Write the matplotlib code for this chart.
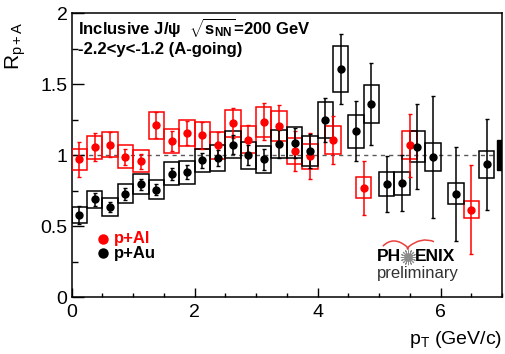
import matplotlib
matplotlib.use("Agg")
import matplotlib.pyplot as plt
import numpy as np
from matplotlib.patches import Rectangle, PathPatch
from matplotlib.path import Path
from matplotlib.ticker import MultipleLocator

plt.rcParams['font.family'] = ['Liberation Sans', 'DejaVu Sans']
plt.rcParams['mathtext.fontset'] = 'custom'
plt.rcParams['mathtext.rm'] = 'Liberation Sans'
plt.rcParams['mathtext.it'] = 'Liberation Sans'
plt.rcParams['mathtext.bf'] = 'Liberation Sans:bold'

# p+Al
pt_al = [0.125, 0.375, 0.625, 0.875, 1.125, 1.375, 1.625, 1.875, 2.125, 2.375,
         2.625, 2.875, 3.125, 3.375, 3.625, 3.875, 4.25, 4.75, 5.5, 6.5]
r_al = [0.97, 1.056, 1.075, 0.99, 0.958, 1.21, 1.10, 1.155, 1.14, 1.07,
        1.225, 1.11, 1.235, 1.205, 1.03, 0.993, 1.108, 0.772, 1.07, 0.618]
stat_al = [0.123, 0.10, 0.085, 0.056, 0.053, 0.092, 0.073, 0.083, 0.094, 0.092,
           0.106, 0.105, 0.13, 0.15, 0.14, 0.16, 0.17, 0.19, 0.22, 0.31]
syst_al = [0.076, 0.082, 0.085, 0.08, 0.076, 0.096, 0.082, 0.092, 0.095, 0.094,
           0.094, 0.094, 0.106, 0.103, 0.092, 0.088, 0.098, 0.072, 0.10, 0.059]

# p+Au
pt_au = [0.125, 0.375, 0.625, 0.875, 1.125, 1.375, 1.625, 1.875, 2.125, 2.375,
         2.625, 2.875, 3.125, 3.375, 3.625, 3.875, 4.125, 4.375, 4.625, 4.875,
         5.125, 5.375, 5.625, 5.875, 6.25, 6.75]
r_au = [0.58, 0.69, 0.636, 0.73, 0.796, 0.758, 0.87, 0.88, 0.965, 0.98,
        1.075, 1.0, 0.97, 1.08, 1.087, 1.027, 1.246, 1.608, 1.169, 1.359,
        0.798, 0.803, 1.061, 0.986, 0.73, 0.937]
stat_au = [0.063, 0.045, 0.035, 0.042, 0.038, 0.041, 0.042, 0.05, 0.052, 0.056,
           0.067, 0.07, 0.077, 0.10, 0.108, 0.12, 0.155, 0.246, 0.21, 0.29,
           0.196, 0.197, 0.30, 0.43, 0.33, 0.32]
syst_au = [0.054, 0.06, 0.061, 0.066, 0.07, 0.068, 0.08, 0.08, 0.082, 0.089,
           0.097, 0.096, 0.096, 0.10, 0.11, 0.105, 0.125, 0.16, 0.117, 0.135,
           0.085, 0.082, 0.11, 0.10, 0.074, 0.095]

# global normalisation uncertainty
norm_au = 0.105

box_w = 0.25


def draw_set(ax, x, y, stat, syst, color):
    for xi, yi, si in zip(x, y, syst):
        ax.add_patch(Rectangle((xi - box_w / 2, yi - si), box_w, 2 * si,
                               fill=False, edgecolor=color, lw=1.1, zorder=3))
    ax.errorbar(x, y, yerr=stat, fmt='o', color=color, ms=5, lw=1.1,
                capsize=1.5, capthick=1.0, zorder=4)


fig = plt.figure(figsize=(5.05, 3.54), dpi=100)
ax = fig.add_axes([0.142, 0.160, 0.852, 0.803])

ax.plot([0, 7], [1, 1], ls=(0, (3, 3)), color='0.35', lw=1.0, zorder=1)
draw_set(ax, pt_al, r_al, stat_al, syst_al, 'red')
draw_set(ax, pt_au, r_au, stat_au, syst_au, 'black')
ax.add_patch(Rectangle((6.92, 1 - norm_au), 0.08, 2 * norm_au,
                       facecolor='black', edgecolor='black', zorder=5))

ax.set_xlim(0, 7)
ax.set_ylim(0, 2)
ax.xaxis.set_major_locator(MultipleLocator(2))
ax.xaxis.set_minor_locator(MultipleLocator(0.5))
ax.yaxis.set_major_locator(MultipleLocator(0.5))
ax.yaxis.set_minor_locator(MultipleLocator(0.25))
ax.yaxis.set_major_formatter(plt.FuncFormatter(lambda v, p: '%g' % v))
ax.tick_params(axis='both', which='both', direction='in', width=1.0,
               labelsize=14, top=False, right=False)
ax.tick_params(axis='x', which='major', length=6.5, pad=5)
ax.tick_params(axis='x', which='minor', length=3.2)
ax.tick_params(axis='y', which='major', length=8.6, pad=3)
ax.tick_params(axis='y', which='minor', length=4.3)
for sp in ax.spines.values():
    sp.set_linewidth(1.1)

# axis titles
fig.text(0.994, 0.028, r'p$_{\rm T}$ (GeV/c)', ha='right', va='baseline', fontsize=14)
fig.text(0.032, 0.94, r'R$_{\rm p+A}$', ha='center', va='top', rotation=90, fontsize=15)

# labels
ax.text(0.015, 0.947, r'Inclusive J/ψ  $\sqrt{\mathbf{s}_{\mathbf{NN}}}$=200 GeV',
        transform=ax.transAxes, fontsize=12, fontweight='bold', va='center')
ax.text(0.015, 0.873, '-2.2<y<-1.2 (A-going)', transform=ax.transAxes,
        fontsize=12, fontweight='bold', va='center')

# legend
for yy, col, lab in [(0.206, 'red', 'p+Al'), (0.156, 'black', 'p+Au')]:
    ax.errorbar([0.072], [yy], yerr=[0.015], fmt='o', color=col, ms=6.5, lw=1.5,
                transform=ax.transAxes, clip_on=False, zorder=6)
    ax.text(0.097, yy, lab, color=col, fontsize=12, fontweight='bold',
            va='center', transform=ax.transAxes)

# PHENIX logo
ax.text(0.765, 0.142, 'PH', fontsize=12.5, fontweight='bold', ha='right',
        va='center', transform=ax.transAxes)
ax.text(0.798, 0.142, 'ENIX', fontsize=12.5, fontweight='bold', ha='left',
        va='center', transform=ax.transAxes)
ax.plot([0.781], [0.142], marker=(16, 2, 0), ms=11, mew=0.7, color='0.55',
        transform=ax.transAxes)
ax.text(0.805, 0.085, 'preliminary', fontsize=12, color='0.2', ha='center',
        va='center', transform=ax.transAxes)
wing = Path([(0.723, 0.180), (0.748, 0.218), (0.779, 0.178),
             (0.781, 0.168), (0.783, 0.178),
             (0.812, 0.214), (0.842, 0.196)],
            [Path.MOVETO, Path.CURVE3, Path.CURVE3,
             Path.LINETO, Path.LINETO, Path.CURVE3, Path.CURVE3])
ax.add_patch(PathPatch(wing, fill=False, edgecolor='#e8403a', lw=1.1,
                       transform=ax.transAxes))

fig.savefig('out.png', dpi=100)
